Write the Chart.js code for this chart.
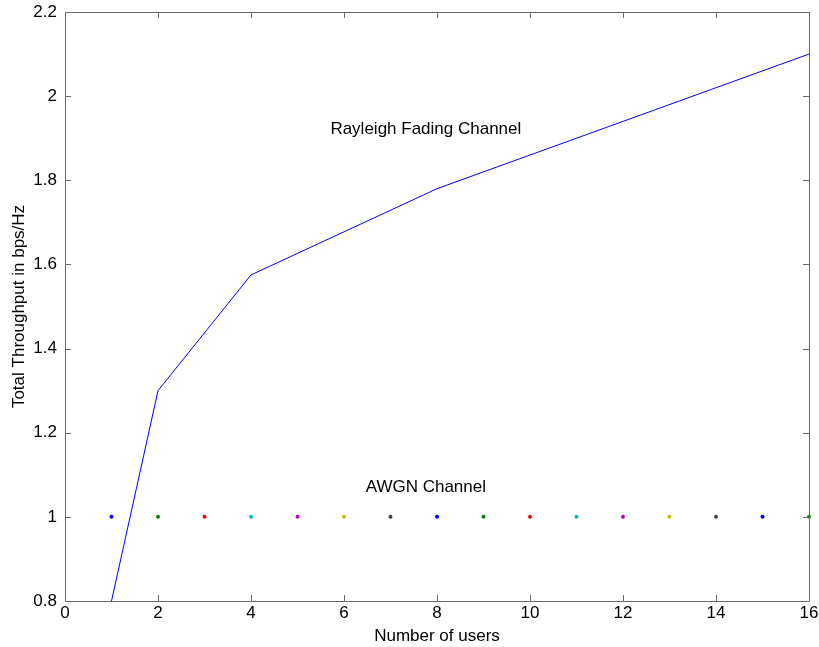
<!DOCTYPE html>
<html>
<head>
<meta charset="utf-8">
<script src="https://cdn.jsdelivr.net/npm/chart.js@4/dist/chart.umd.min.js"></script>
<style>
html,body{margin:0;padding:0;background:#fff;}
canvas{display:block;}
</style>
</head>
<body>
<canvas id="c" width="819" height="647"></canvas>
<script>
// Data
const rayleighUsers = [1, 2, 4, 8, 16];
const rayleighThroughput = [0.8, 1.3, 1.575, 1.78, 2.1];
const awgnUsers = [1,2,3,4,5,6,7,8,9,10,11,12,13,14,15,16];
const awgnThroughput = [1,1,1,1,1,1,1,1,1,1,1,1,1,1,1,1];
const awgnColors = ['#0000ff','#008000','#ff0000','#00bfbf','#bf00bf','#bfbf00','#404040',
                    '#0000ff','#008000','#ff0000','#00bfbf','#bf00bf','#bfbf00','#404040',
                    '#0000ff','#008000'];
const xTicks = [0,2,4,6,8,10,12,14,16];
const yTicks = [0.8,1.0,1.2,1.4,1.6,1.8,2.0,2.2];
const annotations = [
  {text: 'Rayleigh Fading Channel', x: 7.76, y: 1.922},
  {text: 'AWGN Channel', x: 7.76, y: 1.071}
];

const FONT = 'Liberation Sans, Arial, sans-serif';
const FS = 17;

const boxPlugin = {
  id: 'box',
  afterDatasetsDraw(chart) {
    const {ctx, chartArea: a, scales: {x, y}} = chart;
    ctx.save();
    ctx.strokeStyle = '#6a6a6a';
    ctx.lineWidth = 1;
    ctx.beginPath();
    ctx.rect(Math.round(a.left)+0.5, Math.round(a.top)+0.5, Math.round(a.right-a.left), Math.round(a.bottom-a.top));
    const L = 6;
    xTicks.forEach(v => {
      const px = Math.round(x.getPixelForValue(v)) + 0.5;
      ctx.moveTo(px, a.bottom); ctx.lineTo(px, a.bottom - L);
      ctx.moveTo(px, a.top); ctx.lineTo(px, a.top + L);
    });
    yTicks.forEach(v => {
      const py = Math.round(y.getPixelForValue(v)) + 0.5;
      ctx.moveTo(a.left, py); ctx.lineTo(a.left + L, py);
      ctx.moveTo(a.right, py); ctx.lineTo(a.right - L, py);
    });
    ctx.stroke();
    ctx.fillStyle = '#000';
    ctx.font = FS + 'px ' + FONT;
    ctx.textAlign = 'center';
    ctx.textBaseline = 'middle';
    annotations.forEach(t => {
      ctx.fillText(t.text, x.getPixelForValue(t.x), y.getPixelForValue(t.y));
    });
    ctx.restore();
  }
};

new Chart(document.getElementById('c'), {
  type: 'scatter',
  data: {
    datasets: [
      {
        label: 'Rayleigh',
        data: rayleighUsers.map((u, i) => ({x: u, y: rayleighThroughput[i]})),
        showLine: true,
        borderColor: '#0000ff',
        borderWidth: 1,
        pointRadius: 0,
        fill: false
      },
      {
        label: 'AWGN',
        data: awgnUsers.map((u, i) => ({x: u, y: awgnThroughput[i]})),
        showLine: false,
        pointRadius: 2,
        pointBorderWidth: 0,
        pointBackgroundColor: awgnColors,
        pointBorderColor: awgnColors,
        clip: false
      }
    ]
  },
  plugins: [boxPlugin],
  options: {
    responsive: false,
    devicePixelRatio: 1,
    animation: false,
    layout: {padding: {top: 12, right: 10, left: 9, bottom: 0}},
    plugins: {legend: {display: false}, tooltip: {enabled: false}},
    scales: {
      x: {
        type: 'linear', min: 0, max: 16,
        afterBuildTicks: s => { s.ticks = xTicks.map(v => ({value: v})); },
        afterFit: s => { s.height = 46; s.paddingLeft = 0; s.paddingRight = 0; },
        grid: {display: false, drawTicks: false},
        border: {display: false},
        ticks: {color: '#000', font: {family: FONT, size: FS}, padding: 2,
                callback: v => String(v), maxRotation: 0, autoSkip: false},
        title: {display: true, text: 'Number of users', color: '#000',
                font: {family: FONT, size: FS}, padding: {top: 0, bottom: 0}}
      },
      y: {
        type: 'linear', min: 0.8, max: 2.2,
        afterBuildTicks: s => { s.ticks = yTicks.map(v => ({value: v})); },
        afterFit: s => { s.width = 56; s.paddingTop = 0; s.paddingBottom = 0; },
        grid: {display: false, drawTicks: false},
        border: {display: false},
        ticks: {color: '#000', font: {family: FONT, size: FS}, padding: 8,
                callback: v => String(Math.round(v * 10) / 10), autoSkip: false},
        title: {display: true, text: 'Total Throughput in bps/Hz', color: '#000',
                font: {family: FONT, size: FS}, padding: {top: 0, bottom: 0}}
      }
    }
  }
});
</script>
</body>
</html>
